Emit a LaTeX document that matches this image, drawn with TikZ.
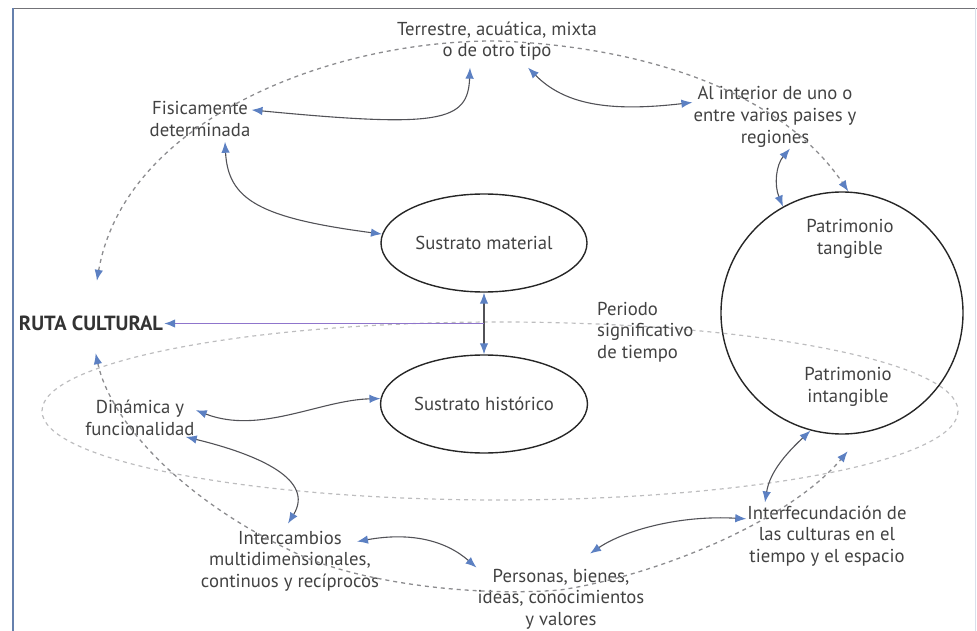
\documentclass[tikz,border=0pt]{standalone}
\usepackage{fontspec}
\setmainfont{PT Sans}
\usetikzlibrary{arrows.meta,shapes.geometric,calc}
\newlength{\du}
\setlength{\du}{1pt}
\definecolor{txtgray}{rgb}{0.26,0.26,0.26}
\definecolor{linegray}{rgb}{0.32,0.32,0.34}
\definecolor{tipblue}{rgb}{0.36,0.50,0.76}
\definecolor{dashgray}{rgb}{0.55,0.55,0.56}
\definecolor{ringgray}{rgb}{0.74,0.74,0.75}
\definecolor{rutaline}{rgb}{0.56,0.46,0.80}
\definecolor{framegray}{rgb}{0.45,0.45,0.47}
\definecolor{frameblue}{rgb}{0.40,0.50,0.68}
\tikzset{
  bluehead/.tip={Latex[color=tipblue,length=11pt,width=8.5pt]},
  texto/.style={font=\fontsize{18.7}{21.7}\selectfont, text=txtgray, align=center, inner sep=1pt},
  sustrato/.style={ellipse, draw=black!85, line width=1.4pt, minimum width=206pt,
    minimum height=98pt, font=\fontsize{18.7}{21.7}\selectfont, text=txtgray},
  patrimonio/.style={circle, draw=black!85, line width=1.4pt, minimum size=242pt},
  enlace/.style={draw=linegray, line width=1.1pt, arrows={bluehead-bluehead}},
  rutalink/.style={draw=rutaline, line width=1.3pt, arrows={-bluehead}},
  traza/.style={draw=dashgray, line width=1.3pt, dash pattern=on 4pt off 4pt, arrows={bluehead-bluehead}},
  anillo/.style={draw=ringgray, line width=1.2pt, dash pattern=on 4pt off 4pt},
}

\begin{document}
\begin{tikzpicture}
\pgftransformxscale{1.000000}
\pgftransformyscale{-1.000000}
\useasboundingbox (0\du,0\du) rectangle (977\du,631\du);
% marco
\draw[draw=framegray, line width=1.6pt] (12\du,8.5\du)--(977\du,8.5\du);
\draw[draw=frameblue, line width=1.6pt] (13\du,8\du)--(13\du,631\du);
\draw[draw=frameblue!25, line width=1pt] (975\du,8\du)--(975\du,631\du);
% anillo del tiempo
\draw[anillo] (500\du,411\du) ellipse [x radius=458\du, y radius=89\du];
% nodos
\node[texto] (terr) at (497\du,41\du) {Terrestre, acuática, mixta\\o de otro tipo};
\node[texto] (fisic) at (200\du,119\du) {Fisicamente\\determinada};
\node[texto] (inter) at (775\du,117\du) {Al interior de uno o\\entre varios paises y\\regiones};
\node[sustrato] (smat) at (484\du,243\du) {Sustrato material};
\node[sustrato] (shist) at (484\du,404\du) {Sustrato histórico};
\node[patrimonio] (patr) at (842\du,313\du) {};
\node[texto] (ptang) at (850\du,239\du) {Patrimonio\\tangible};
\node[texto] (pintang) at (848\du,387\du) {Patrimonio\\intangible};
\node[texto, align=left, anchor=west] (periodo) at (596\du,332\du) {Periodo\\significativo\\de tiempo};
\node[texto, font=\fontsize{20.5}{22}\selectfont\bfseries, text=black!80] (ruta) at (91\du,323\du) {RUTA CULTURAL};
\node[texto] (dinam) at (140\du,418\du) {Dinámica y\\funcionalidad};
\node[texto] (interc) at (290\du,561\du) {Intercambios\\multidimensionales,\\continuos y recíprocos};
\node[texto] (pers) at (561\du,599\du) {Personas, bienes,\\ideas, conocimientos\\y valores};
\node[texto] (interf) at (827\du,536\du) {Interfecundación de\\las culturas en el\\tiempo y el espacio};
% enlaces
\draw[enlace] ($(terr.south)+(-27\du,6\du)$) .. controls (468\du,122\du) and (440\du,128\du) .. (fisic.10);
\draw[enlace] ($(fisic.south)+(25\du,4\du)$) .. controls (228\du,200\du) and (260\du,218\du) .. (smat.175);
\draw[enlace] ($(terr.south)+(31\du,6\du)$) .. controls (565\du,105\du) and (610\du,112\du) .. (inter.170);
\draw[enlace] ($(inter.south)+(15\du,0\du)$) .. controls (776\du,165\du) and (774\du,185\du) .. (patr.119);
\draw[enlace] (dinam.8) .. controls (260\du,435\du) and (320\du,400\du) .. (shist.177);
\draw[enlace] ($(dinam.south east)+(-10\du,0\du)$) .. controls (260\du,455\du) and (315\du,480\du) .. ($(interc.north)+(-2\du,-6\du)$);
\draw[enlace] ($(interc.north)+(67\du,12\du)$) .. controls (410\du,532\du) and (445\du,540\du) .. (pers.north west);
\draw[enlace] ($(pers.north)+(29\du,-14\du)$) .. controls (625\du,530\du) and (680\du,515\du) .. (interf.168);
\draw[enlace] ($(interf.north)+(-62\du,-2\du)$) .. controls (770\du,470\du) and (790\du,450\du) .. (patr.255);
\draw[enlace] (smat.south) -- (shist.north);
\coordinate (cruce) at ($(smat.south)!0.5!(shist.north)$);
\draw[rutalink] (cruce) -- (cruce -| ruta.east);
% trazas punteadas
\draw[traza, shorten <=34pt] (ruta.north) .. controls (125\du,120\du) and (330\du,40\du) .. (terr.center)
  .. controls (640\du,46\du) and (780\du,90\du) .. (patr.87);
\draw[traza, shorten <=22pt, shorten >=24pt] (ruta.south) .. controls (110\du,420\du) and (180\du,500\du) .. (300\du,555\du)
  .. controls (360\du,582\du) and (470\du,597\du) .. (560\du,590\du)
  .. controls (660\du,575\du) and (790\du,520\du) .. (patr.280);
\end{tikzpicture}
\end{document}
